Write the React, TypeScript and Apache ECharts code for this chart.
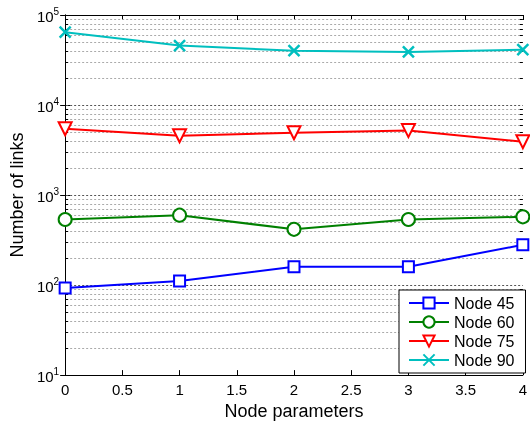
import React, { useEffect, useRef } from "react";
import * as echarts from "echarts";

const xValues = [0, 1, 2, 3, 4];
const seriesNames = ["Node 45", "Node 60", "Node 75", "Node 90"];
const node45 = [93, 111, 160, 160, 280];
const node60 = [535, 598, 416, 535, 573];
const node75 = [5450, 4560, 4920, 5200, 3920];
const node90 = [64500, 45700, 40200, 38900, 41200];
const majorGrid = [100, 1000, 10000];
const minorGrid: number[] = [];
for (let k = 1; k <= 4; k++) {
  for (let m = 2; m <= 9; m++) minorGrid.push(m * Math.pow(10, k));
}

const FONT = "Liberation Sans, Arial, Helvetica, sans-serif";

export default function App() {
  const ref = useRef<HTMLDivElement>(null);
  useEffect(() => {
    if (!ref.current) return;
    const chart = echarts.init(ref.current, null, { renderer: "svg" });
    const gridLines = [
      ...majorGrid.map((v) => [0, v, 1]),
      ...minorGrid.map((v) => [0, v, 0]),
    ];
    const mk = (name: string, data: number[], color: string, symbol: string, size: number, extra: any = {}) => ({
      name,
      type: "line",
      data: xValues.map((x, i) => [x, data[i]]),
      symbol,
      symbolSize: size,
      showSymbol: true,
      lineStyle: { color, width: 2 },
      itemStyle: { color, borderColor: color, borderWidth: 2 },
      emphasis: { disabled: true },
      z: 5,
      ...extra,
    });
    chart.setOption({
      animation: false,
      textStyle: { fontFamily: FONT },
      grid: { left: 63, right: 4, top: 15, bottom: 45 },
      legend: {
        data: seriesNames,
        orient: "vertical",
        left: 399,
        top: 290,
        padding: [5, 11, 5, 9],
        itemWidth: 40,
        itemHeight: 14,
        itemGap: 3,
        backgroundColor: "#fff",
        borderColor: "#000",
        borderWidth: 1,
        borderRadius: 0,
        textStyle: { fontSize: 16, color: "#000", fontFamily: FONT },
      },
      xAxis: [
        {
          type: "value",
          min: 0,
          max: 4,
          interval: 0.5,
          name: "Node parameters",
          nameLocation: "middle",
          nameGap: 23,
          nameTextStyle: { fontSize: 18, color: "#000", fontFamily: FONT },
          axisLine: { lineStyle: { color: "#000", width: 1 } },
          axisTick: { inside: true, length: 5, lineStyle: { color: "#000" } },
          axisLabel: { fontSize: 15, color: "#000", margin: 7, fontFamily: FONT },
          splitLine: { show: false },
        },
        {
          type: "value",
          position: "top",
          min: 0,
          max: 4,
          interval: 0.5,
          axisLine: { lineStyle: { color: "#000", width: 1 } },
          axisTick: { inside: true, length: 5, lineStyle: { color: "#000" } },
          axisLabel: { show: false },
          splitLine: { show: false },
        },
      ],
      yAxis: [
        {
          type: "log",
          logBase: 10,
          min: 10,
          max: 100000,
          name: "Number of links",
          nameLocation: "middle",
          nameGap: 34,
          nameTextStyle: { fontSize: 18, color: "#000", fontFamily: FONT },
          axisLine: { lineStyle: { color: "#000", width: 1 } },
          axisTick: { inside: true, length: 5, lineStyle: { color: "#000" } },
          axisLabel: {
            margin: 6,
            formatter: (v: number) => `{b|10}{s|${Math.round(Math.log10(v))}}`,
            rich: {
              b: { fontSize: 15, color: "#000", fontFamily: FONT, lineHeight: 18, verticalAlign: "bottom" },
              s: { fontSize: 10, color: "#000", fontFamily: FONT, lineHeight: 18, verticalAlign: "top", padding: [0, 0, 8, 0] },
            },
          },
          splitLine: { show: false },
        },
        {
          type: "log",
          logBase: 10,
          min: 10,
          max: 100000,
          position: "right",
          axisLine: { lineStyle: { color: "#000", width: 1 } },
          axisTick: { inside: true, length: 5, lineStyle: { color: "#000" } },
          axisLabel: { show: false },
          splitLine: { show: false },
        },
      ],
      series: [
        {
          type: "custom",
          name: "grid",
          data: gridLines,
          silent: true,
          z: 1,
          renderItem: (params: any, api: any) => {
            const v = api.value(1);
            const major = api.value(2) === 1;
            const p0 = api.coord([0, v]);
            const p1 = api.coord([4, v]);
            const y = Math.round(p0[1]) + 0.5;
            const children: any[] = [
              {
                type: "line",
                shape: { x1: p0[0] + 1, y1: y, x2: p1[0], y2: y },
                style: { stroke: major ? "#555" : "#aaa", lineWidth: 1, lineDash: [2, 2] },
              },
            ];
            if (!major) {
              children.push(
                { type: "line", shape: { x1: p0[0], y1: y, x2: p0[0] + 3, y2: y }, style: { stroke: "#000", lineWidth: 1 } },
                { type: "line", shape: { x1: p1[0] - 3, y1: y, x2: p1[0], y2: y }, style: { stroke: "#000", lineWidth: 1 } }
              );
            }
            return { type: "group", children };
          },
        },
        mk(seriesNames[0], node45, "#0000ff", "emptyRect", 11),
        mk(seriesNames[1], node60, "#008000", "emptyCircle", 13),
        mk(seriesNames[2], node75, "#ff0000", "emptyTriangle", 13, { symbolRotate: 180 }),
        mk(seriesNames[3], node90, "#00bfbf", "path://M0,0L10,10M10,0L0,10", 11, {
          itemStyle: { color: "#00bfbf", borderColor: "#00bfbf", borderWidth: 2.5 },
        }),
      ],
    });
    return () => chart.dispose();
  }, []);
  return (
    <div
      ref={ref}
      style={{ position: "fixed", left: 0, top: 0, width: 530, height: 425 }}
    />
  );
}
